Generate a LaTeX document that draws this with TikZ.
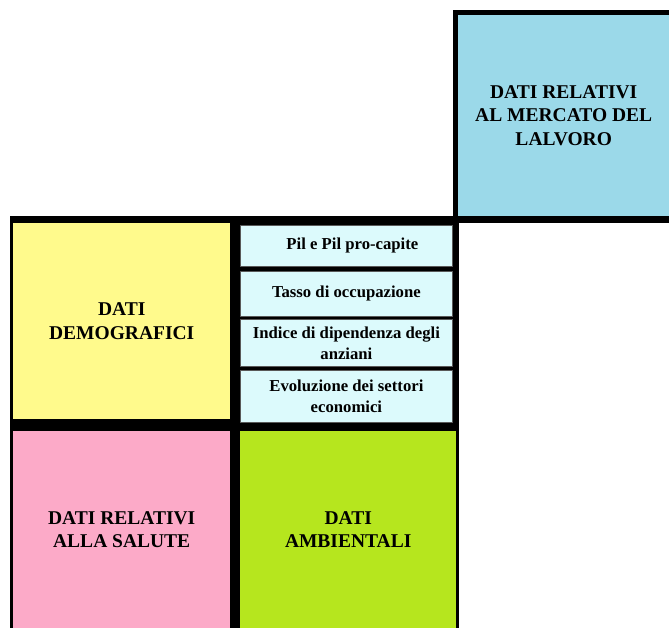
\documentclass[tikz,border=0pt]{standalone}
\usepackage{fontspec}
\setmainfont{Liberation Serif}
\newfontfamily\cellfont{Liberation Serif Bold}
\definecolor{blueC}{RGB}{155,217,233}
\definecolor{yellowC}{RGB}{255,250,140}
\definecolor{cyanC}{RGB}{220,250,252}
\definecolor{pinkC}{RGB}{252,170,200}
\definecolor{greenC}{RGB}{182,230,30}
\begin{document}
\begin{tikzpicture}[x=1pt,y=-1pt,
  cell/.style={rectangle, inner sep=0pt, anchor=north west, align=center,
    text=black, font=\cellfont\fontsize{19.5}{23.5}\selectfont},
  item/.style={cell, draw=black!65, line width=0.8pt, fill=cyanC,
    font=\cellfont\fontsize{16.7}{21}\selectfont}
]
\useasboundingbox (0,0) rectangle (669,628);
% thick black frames behind the coloured cells
\fill[black] (453,10) rectangle (669,223);
\fill[black] (10,216) rectangle (459,628);
% labour-market cell
\node[cell, fill=blueC, minimum width=211pt, minimum height=201pt] (mercato) at (458,15)
  {DATI RELATIVI\\AL MERCATO DEL\\LALVORO};
% demographic cell
\node[cell, fill=yellowC, minimum width=217pt, minimum height=196pt] (demo) at (13,223)
  {DATI\\DEMOGRAFICI};
% economic indicators
\node[item, minimum width=212pt, minimum height=41pt] (pil) at (240,225) {\hspace{12pt}Pil e Pil pro-capite};
\node[item, minimum width=212pt, minimum height=45pt] (tasso) at (240,271) {Tasso di occupazione};
\node[item, minimum width=212pt, minimum height=47pt] (indice) at (240,319) {Indice di dipendenza degli\\anziani};
\node[item, minimum width=212pt, minimum height=52pt] (evol) at (240,370) {Evoluzione dei settori\\economici};
% health cell
\node[cell, fill=pinkC, minimum width=217pt, minimum height=197pt] (salute) at (13,431)
  {DATI RELATIVI\\ALLA SALUTE};
% environmental cell
\node[cell, fill=greenC, minimum width=216pt, minimum height=197pt] (ambiente) at (240,431)
  {DATI\\AMBIENTALI};
\end{tikzpicture}
\end{document}
